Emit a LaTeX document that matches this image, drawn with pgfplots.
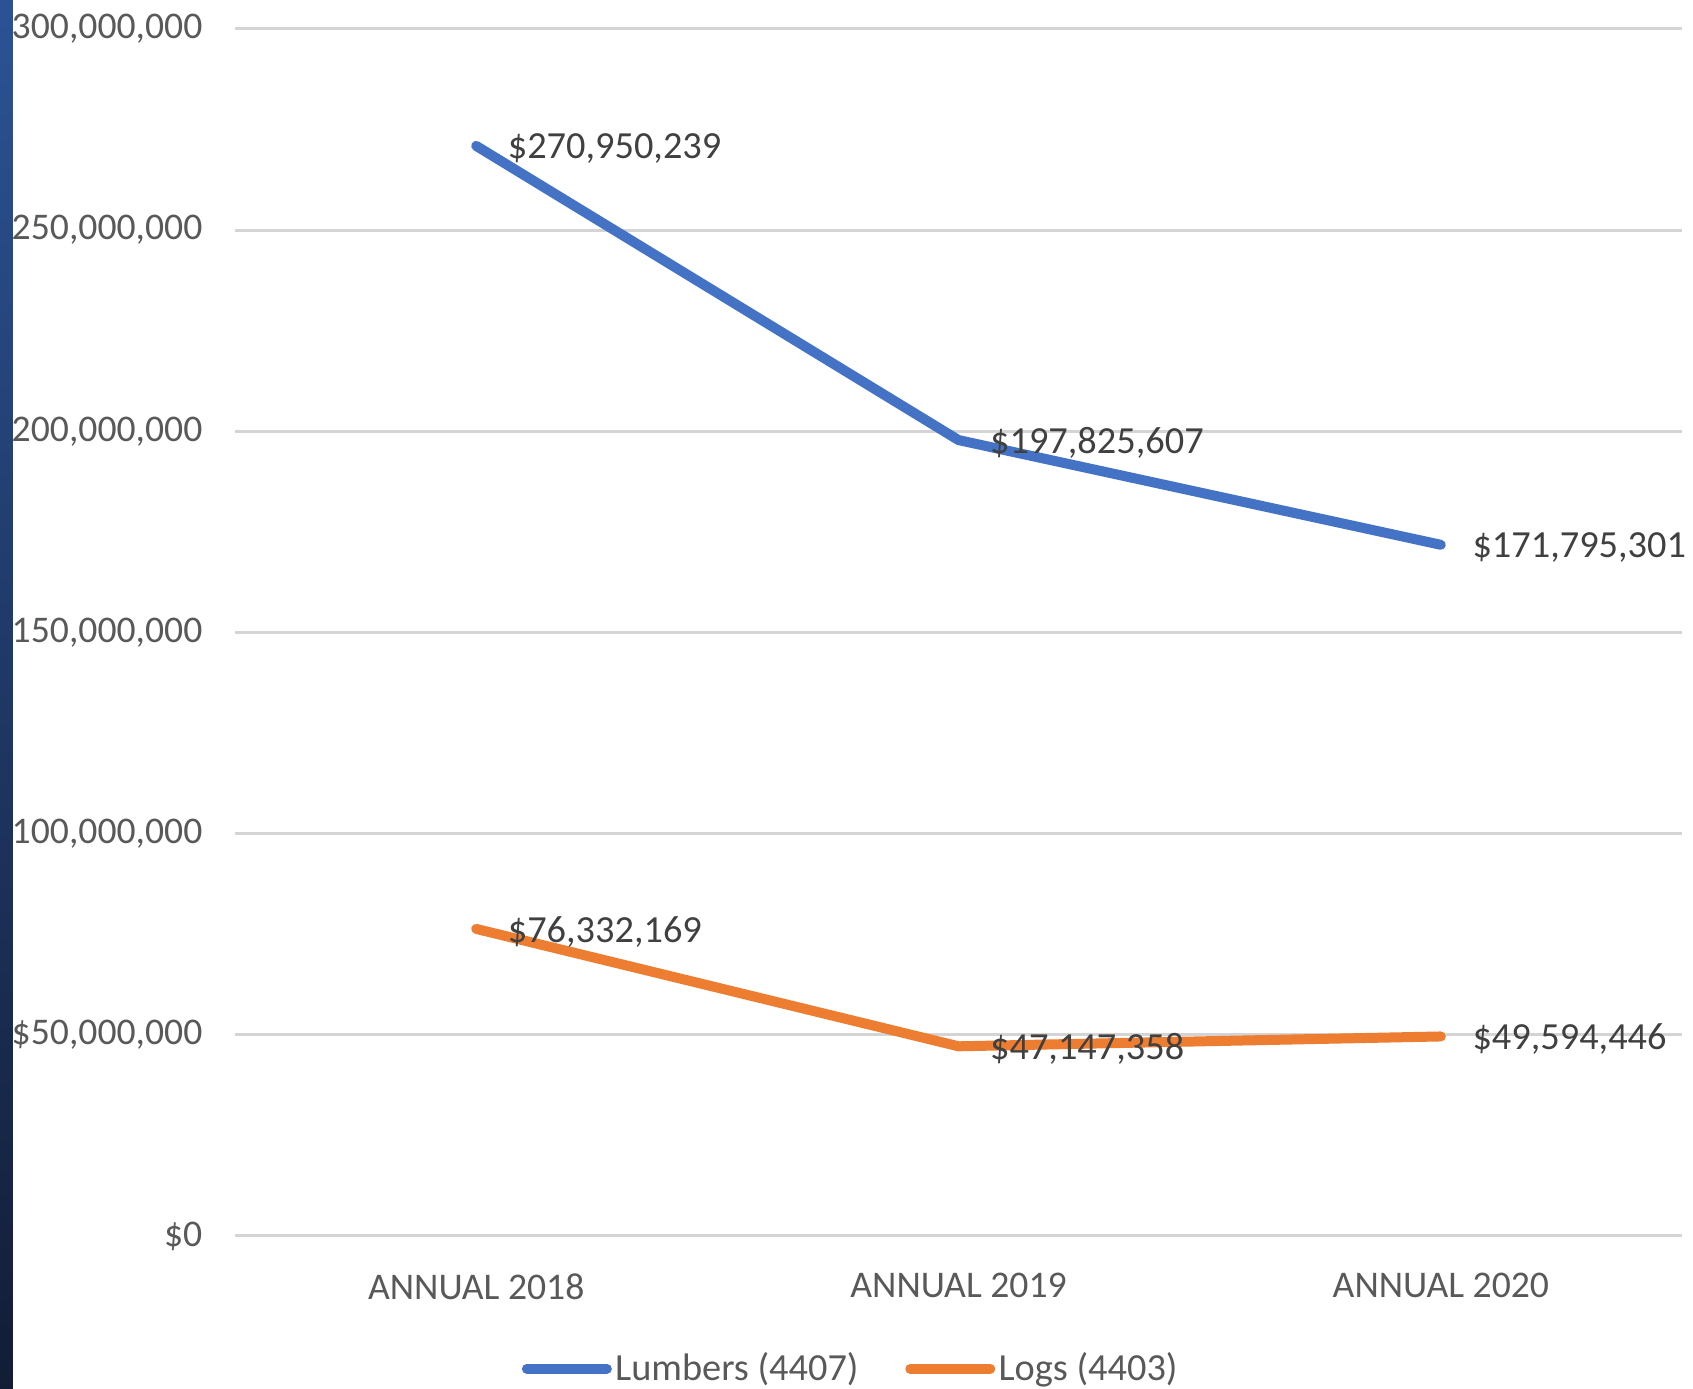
\documentclass[border=0pt]{standalone}
\usepackage{pgfplots}
\pgfplotsset{compat=1.18}
\usepackage{fontspec}
\setmainfont{Carlito}

\definecolor{lumber}{HTML}{4472C4}
\definecolor{logs}{HTML}{ED7D31}
\definecolor{ticktext}{HTML}{595959}
\definecolor{labeltext}{HTML}{404040}
\definecolor{gridgray}{HTML}{D4D4D4}
\definecolor{striptop}{HTML}{2B5394}
\definecolor{stripbot}{HTML}{121D35}

\begin{document}
\begin{tikzpicture}
  \begin{axis}[
    at={(0,0)}, anchor=south west,
    scale only axis,
    width=434.1pt, height=362.1pt,
    xmin=-0.5, xmax=2.5,
    ymin=0, ymax=300000000,
    clip=false,
    axis line style={draw=none},
    major tick length=0pt,
    xtick={0,1,2},
    xticklabels={ANNUAL 2018, ANNUAL 2019, ANNUAL 2020},
    ytick={0,50000000,100000000,150000000,200000000,250000000,300000000},
    yticklabels={{\$0}, {\$50,000,000}, {100,000,000}, {150,000,000}, {200,000,000}, {250,000,000}, {300,000,000}},
    scaled y ticks=false,
    ymajorgrids,
    grid style={line width=0.9pt, color=gridgray},
    tick label style={font=\fontsize{11.3}{13}\selectfont, text=ticktext},
    yticklabel style={anchor=east, inner sep=0pt, xshift=-9.6pt},
    xticklabel style={anchor=north, inner sep=0pt, yshift=-11pt},
    point meta=explicit symbolic,
    nodes near coords,
    nodes near coords style={anchor=west, inner sep=0pt, xshift=8pt, yshift=-0.8pt,
      font=\fontsize{11.5}{13}\selectfont, text=labeltext},
    legend columns=-1,
    legend style={at={(0.426,-0.110)}, anchor=center, draw=none, fill=none,
      font=\fontsize{11.5}{13}\selectfont, text=ticktext,
      nodes={inner xsep=1pt},
      /tikz/every even column/.append style={column sep=13pt},
      /tikz/every odd column/.append style={column sep=0pt}},
    legend image code/.code={\draw[#1, line width=3pt, line cap=round] (0pt,0pt) -- (24pt,0pt);},
  ]
    \addplot[lumber, line width=3pt, line cap=round, line join=round] coordinates {
      (0,270950239) [\$270,950,239]
      (1,197825607) [\$197,825,607]
      (2,171795301) [\$171,795,301]
    };
    \addplot[logs, line width=3pt, line cap=round, line join=round] coordinates {
      (0,76332169) [\$76,332,169]
      (1,47147358) [\$47,147,358]
      (2,49594446) [\$49,594,446]
    };
    \legend{Lumbers (4407), Logs (4403)}
  \end{axis}
  \shade[top color=striptop, bottom color=stripbot] (-70.5pt,-45.9pt) rectangle (-66.6pt,370.8pt);
  \pgfresetboundingbox
  \path[use as bounding box] (-70.5pt,-45.9pt) rectangle (437.4pt,370.8pt);
\end{tikzpicture}
\end{document}
